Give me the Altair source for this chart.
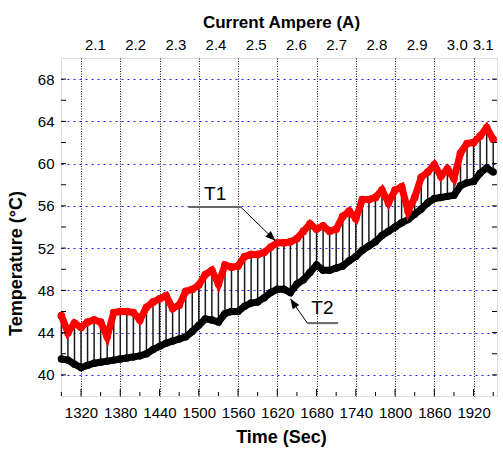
import altair as alt
import pandas as pd

# ---------------- data ----------------
times = [1290, 1300, 1310, 1320, 1330, 1340, 1350, 1360, 1370, 1380,
         1390, 1400, 1410, 1420, 1430, 1440, 1450, 1460, 1470, 1480,
         1490, 1500, 1510, 1520, 1530, 1540, 1550, 1560, 1570, 1580,
         1590, 1600, 1610, 1620, 1630, 1640, 1650, 1660, 1670, 1680,
         1690, 1700, 1710, 1720, 1730, 1740, 1750, 1760, 1770, 1780,
         1790, 1800, 1810, 1820, 1830, 1840, 1850, 1860, 1870, 1880,
         1890, 1900, 1910, 1920, 1930, 1940, 1950]

t1_values = [45.6, 44.0, 44.9, 44.5, 45.0, 45.2, 45.0, 43.6, 45.9, 46.0,
             46.0, 45.9, 45.2, 46.4, 46.9, 47.2, 47.5, 46.3, 46.6, 47.9,
             48.1, 48.5, 49.5, 49.9, 48.6, 50.4, 50.2, 50.3, 51.2, 51.4,
             51.4, 51.6, 52.1, 52.5, 52.5, 52.6, 52.9, 53.6, 54.3, 53.8,
             54.1, 53.6, 53.8, 55.0, 55.5, 54.8, 56.6, 56.6, 56.8, 57.5,
             56.3, 57.5, 57.8, 55.5, 56.8, 58.7, 59.2, 59.9, 58.8, 59.5,
             58.6, 61.0, 61.9, 62.0, 62.6, 63.4, 62.3]

t2_values = [41.5, 41.4, 41.0, 40.7, 40.9, 41.1, 41.2, 41.3, 41.4, 41.5,
             41.6, 41.7, 41.8, 42.0, 42.4, 42.7, 43.0, 43.2, 43.4, 43.6,
             44.1, 44.7, 45.3, 45.2, 45.0, 45.8, 46.0, 46.0, 46.5, 46.8,
             46.9, 47.3, 47.8, 48.1, 48.1, 47.8, 48.6, 49.0, 49.7, 50.4,
             49.9, 49.9, 50.1, 50.3, 50.8, 51.2, 51.8, 52.2, 52.6, 53.2,
             53.6, 54.0, 54.4, 54.7, 55.2, 55.7, 56.3, 56.7, 56.8, 56.9,
             57.0, 57.9, 58.2, 58.3, 59.1, 59.6, 59.2]

time_ticks = [1320, 1380, 1440, 1500, 1560, 1620, 1680, 1740, 1800, 1860, 1920]
time_minor = [1290, 1350, 1410, 1470, 1530, 1590, 1650, 1710, 1770, 1830, 1890, 1950]
temp_ticks = [40, 44, 48, 52, 56, 60, 64, 68]
temp_minor = [42, 46, 50, 54, 58, 62, 66]
current_ticks = [2.1, 2.2, 2.3, 2.4, 2.5, 2.6, 2.7, 2.8, 2.9, 3.0, 3.1]

# annotation anchors (data coordinates)
ann_text = pd.DataFrame({"t": [1525, 1689], "v": [57.1, 46.3], "label": ["T1", "T2"]})
ann_flat = pd.DataFrame({"t": [1484, 1666], "t2": [1564, 1713], "v": [55.9, 44.9]})
ann_arrow = pd.DataFrame({"t": [1564, 1666], "v": [55.9, 44.9],
                          "t2": [1617, 1640], "v2": [52.7, 47.2]})
ann_head = pd.DataFrame({"t": [1617, 1640], "v": [52.7, 47.2], "ang": [134, 326]})

# ---------------- chart ----------------
W, H = 436, 338
FONT = "Liberation Sans"

df = pd.DataFrame({"t": times, "T1": t1_values, "T2": t2_values})
xs = alt.Scale(domain=[1289.4, 1955.8], nice=False, zero=False)
ys = alt.Scale(domain=[38, 70], nice=False, zero=False)

x_axis = alt.Axis(values=time_ticks, format="d", grid=True, gridColor="#111111",
                  gridDash=[1, 1.5], gridWidth=1, tickSize=0, domain=False,
                  labelFont=FONT, labelFontSize=15, labelColor="black", labelPadding=9,
                  title="Time (Sec)", titleFont=FONT, titleFontSize=18,
                  titleFontWeight="bold", titleColor="black", titleX=220,
                  titleY=41, titleBaseline="middle")
y_axis = alt.Axis(values=temp_ticks, grid=True, gridColor="#2020ff", gridDash=[2, 4],
                  gridWidth=1.2, tickSize=0, domain=False, labelFont=FONT,
                  labelFontSize=15, labelColor="black", labelPadding=7,
                  title="Temperature (°C)", titleFont=FONT, titleFontSize=18,
                  titleFontWeight="bold", titleColor="black", titleX=-45,
                  titleY=205, titleAngle=270, titleAlign="center",
                  titleBaseline="middle")

hatch = alt.Chart(df).mark_rule(color="#1a1a1a", strokeWidth=1.5).encode(
    x=alt.X("t:Q", scale=xs, axis=x_axis),
    y=alt.Y("T2:Q", scale=ys, axis=y_axis),
    y2="T1:Q",
)

black_line = alt.Chart(df).mark_line(color="black", strokeWidth=7).encode(
    x="t:Q", y="T2:Q")
black_pts = alt.Chart(df).mark_circle(color="black", size=55, opacity=1).encode(
    x="t:Q", y="T2:Q")
red_line = alt.Chart(df).mark_line(color="#ff0000", strokeWidth=7).encode(
    x="t:Q", y="T1:Q")
red_pts = alt.Chart(df).mark_circle(color="#ff0000", size=60, opacity=1).encode(
    x="t:Q", y="T1:Q")

ydf = pd.DataFrame({"v": temp_ticks + temp_minor})
xdf_major = pd.DataFrame({"t": time_ticks})
xdf_minor = pd.DataFrame({"t": time_minor})

left_ticks = alt.Chart(ydf).mark_rule(color="black", strokeWidth=1).encode(
    y="v:Q", x=alt.value(0), x2=alt.value(5))
right_ticks = alt.Chart(ydf).mark_rule(color="black", strokeWidth=1).encode(
    y="v:Q", x=alt.value(W - 5), x2=alt.value(W))
bottom_major = alt.Chart(xdf_major).mark_rule(color="black", strokeWidth=1).encode(
    x="t:Q", y=alt.value(H - 7), y2=alt.value(H))
bottom_minor = alt.Chart(xdf_minor).mark_rule(color="black", strokeWidth=1).encode(
    x="t:Q", y=alt.value(H - 4), y2=alt.value(H))

flat = alt.Chart(ann_flat).mark_rule(color="#666666", strokeWidth=2).encode(
    x="t:Q", x2="t2:Q", y="v:Q")
arrow = alt.Chart(ann_arrow).mark_rule(color="black", strokeWidth=1).encode(
    x="t:Q", x2="t2:Q", y="v:Q", y2="v2:Q")
heads = alt.Chart(ann_head).mark_point(
    shape="M0,0L-0.8,2L0.8,2Z", filled=True, color="black", size=100, opacity=1
).encode(x="t:Q", y="v:Q", angle=alt.Angle("ang:Q", scale=None))
labels = alt.Chart(ann_text).mark_text(font=FONT, fontSize=19, color="black").encode(
    x="t:Q", y="v:Q", text="label:N")

inner = alt.layer(hatch, black_line, black_pts, red_line, red_pts,
                  left_ticks, right_ticks, bottom_major, bottom_minor,
                  flat, arrow, heads, labels)

top_axis = alt.Chart(pd.DataFrame({"c": current_ticks})).mark_point(opacity=0).encode(
    x=alt.X("c:Q", scale=alt.Scale(domain=[2.0157, 3.1], nice=False, zero=False),
            axis=alt.Axis(orient="top", values=current_ticks, format=".1f", grid=False,
                          tickSize=0, domain=False, labelFont=FONT, labelFontSize=15,
                          labelColor="black", labelPadding=6,
                          labelOffset={"condition": {"test": "datum.value >= 3.05",
                                                     "value": -4}, "value": 0},
                          title="Current Ampere (A)", titleFont=FONT, titleFontSize=17,
                          titleFontWeight="bold", titleColor="black", titleX=220,
                          titleY=-36, titleBaseline="middle"))
)

chart = alt.layer(inner, top_axis).resolve_scale(x="independent").properties(
    width=W, height=H, autosize="none",
    padding={"left": 61, "top": 58, "right": 6, "bottom": 59},
).configure_view(stroke="black", strokeWidth=1.5).configure(background="white")

chart.save("out.html", embed_options={"renderer": "svg", "actions": False})
